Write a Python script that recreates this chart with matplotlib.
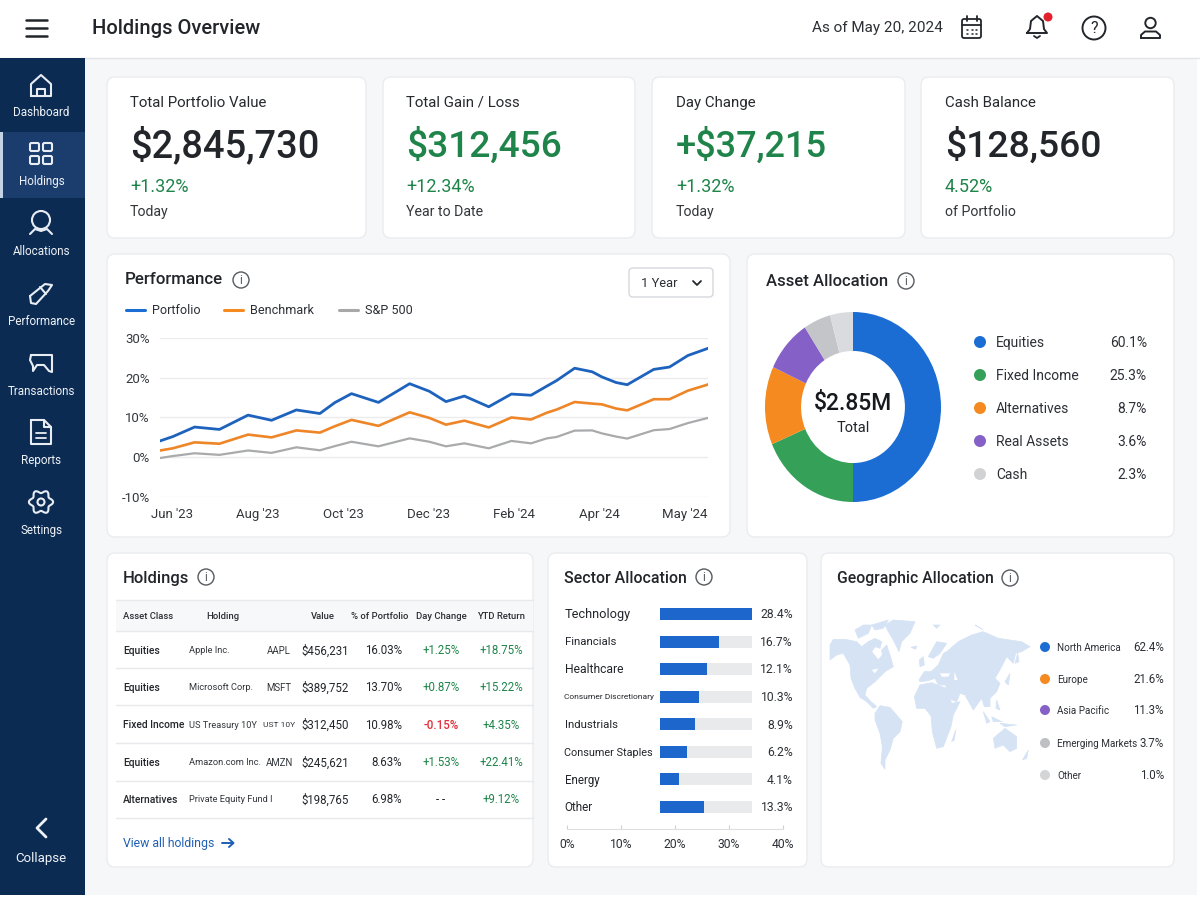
#!/usr/bin/env python3

import numpy as np
import matplotlib
matplotlib.use("Agg")
import matplotlib.pyplot as plt
from matplotlib.patches import FancyBboxPatch, Circle, Rectangle, Polygon

plt.rcParams["font.family"] = ["Roboto", "DejaVu Sans"]

INK = "#22262b"
GREEN = "#1e8449"
RED = "#e0303c"
NAVY = "#0c2b52"
BLUE = "#1b6dd3"
ORANGE = "#f58a20"
PURPLE = "#8560c6"

# performance chart
perf_months = [-0.28, 0.02, 0.53, 1.11, 1.78, 2.33, 2.91, 3.46, 3.81, 4.2, 4.83, 5.56, 6.02, 6.41, 6.84,
               7.41, 7.94, 8.4, 8.77, 9.0, 9.42, 9.83, 10.06, 10.39, 10.65, 11.27, 11.64, 12.07, 12.54]
portfolio = [4.1, 5.2, 7.6, 7.0, 10.6, 9.3, 11.9, 11.0, 13.75, 16.0, 13.8, 18.5, 16.6, 14.0, 15.4,
             12.7, 15.9, 15.6, 17.9, 19.3, 22.4, 21.5, 20.2, 18.8, 18.25, 22.1, 22.7, 25.6, 27.4]
benchmark = [1.7, 2.25, 3.75, 3.4, 5.7, 5.0, 6.75, 6.2, 7.8, 9.4, 7.9, 11.3, 9.9, 8.2, 9.2,
             7.5, 10.0, 9.5, 11.2, 12.0, 13.9, 13.5, 13.3, 12.25, 11.8, 14.6, 14.6, 16.75, 18.3]
sp500 = [-0.2, 0.3, 1.0, 0.6, 1.7, 1.1, 2.5, 1.75, 2.8, 3.9, 2.75, 4.75, 3.9, 2.75, 3.5,
         2.25, 4.1, 3.5, 4.75, 5.1, 6.7, 6.75, 6.0, 5.2, 4.7, 6.8, 7.1, 8.6, 9.9]
month_ticks = [0, 2, 4, 6, 8, 10, 12]
month_labels = ["Jun '23", "Aug '23", "Oct '23", "Dec '23", "Feb '24", "Apr '24", "May '24"]
pct_ticks = [-10, 0, 10, 20, 30]

# asset allocation: labels show one thing, the ring was drawn with other shares
asset_names = ["Equities", "Fixed Income", "Alternatives", "Real Assets", "Cash"]
asset_pct = ["60.1%", "25.3%", "8.7%", "3.6%", "2.3%"]
ring_shares = [50.0, 18.6, 13.3, 8.9, 5.0, 4.2]
ring_colors = [BLUE, "#34a058", ORANGE, PURPLE, "#c3c5c9", "#d9dbde"]
asset_dots = [BLUE, "#34a058", ORANGE, PURPLE, "#d0d2d4"]

# sector bars, fill is the part of the grey track as drawn
sectors = ["Technology", "Financials", "Healthcare", "Consumer Discretionary", "Industrials",
           "Consumer Staples", "Energy", "Other"]
sector_sizes = [9.2, 8.2, 8.7, 6.05, 8.2, 7.8, 8.3, 8.5]
sector_pct = ["28.4%", "16.7%", "12.1%", "10.3%", "8.9%", "6.2%", "4.1%", "13.3%"]
sector_fill = [1.0, 0.645, 0.51, 0.42, 0.38, 0.29, 0.21, 0.48]
sector_axis_ticks = [0, 10, 20, 30, 40]

# geographic legend
geo_names = ["North America", "Europe", "Asia Pacific", "Emerging Markets", "Other"]
geo_pct = ["62.4%", "21.6%", "11.3%", "3.7%", "1.0%"]
geo_dots = [BLUE, ORANGE, PURPLE, "#bdbfc2", "#d4d5d7"]

# holdings table
hold_class = ["Equities", "Equities", "Fixed Income", "Equities", "Alternatives"]
hold_name = ["Apple Inc.", "Microsoft Corp.", "US Treasury 10Y", "Amazon.com Inc.", "Private Equity Fund I"]
hold_ticker = ["AAPL", "MSFT", "UST 10Y", "AMZN", ""]
ticker_sizes = [6.9, 6.9, 6.1, 6.9, 6.9]
hold_value = ["$456,231", "$389,752", "$312,450", "$245,621", "$198,765"]
hold_share = ["16.03%", "13.70%", "10.98%", "8.63%", "6.98%"]
hold_day = ["+1.25%", "+0.87%", "-0.15%", "+1.53%", "- -"]
hold_ytd = ["+18.75%", "+15.22%", "+4.35%", "+22.41%", "+9.12%"]

# kpi cards
kpi_titles = ["Total Portfolio Value", "Total Gain / Loss", "Day Change", "Cash Balance"]
kpi_values = ["$2,845,730", "$312,456", "+$37,215", "$128,560"]
kpi_sizes = [27.4, 26.7, 26.0, 26.8]
kpi_deltas = ["+1.32%", "+12.34%", "+1.32%", "4.52%"]
kpi_notes = ["Today", "Year to Date", "Today", "of Portfolio"]
kpi_colors = [INK, GREEN, GREEN, INK]
kpi_boxes = [(107, 366), (383, 635), (652, 905), (921, 1174)]
kpi_text_x = [130, 406, 676, 945]

nav_items = ["Dashboard", "Holdings", "Allocations", "Performance", "Transactions", "Reports", "Settings"]
nav_icon_y = [86, 154, 223, 293, 363, 432, 502]
nav_text_y = [112, 181, 251, 321, 391, 460, 530]

# world map outlines, in pixels of the map zoom
world_land = [
    [(15, 105), (25, 88), (60, 88), (95, 95), (110, 110), (130, 95), (150, 85), (170, 95), (165, 115), (150, 110),
     (140, 125), (160, 150), (172, 135), (170, 120), (185, 105), (195, 135), (205, 170), (180, 185), (165, 200),
     (150, 215), (125, 235), (120, 255), (135, 272), (155, 290), (145, 295), (125, 275), (105, 262), (90, 235),
     (78, 205), (75, 165), (55, 130), (35, 135), (15, 150)],
    [(90, 60), (115, 45), (140, 45), (130, 70), (100, 85)],
    [(140, 45), (190, 30), (175, 55), (150, 60)],
    [(180, 45), (205, 30), (270, 35), (255, 70), (230, 95), (222, 125), (205, 90), (190, 65)],
    [(258, 112), (275, 108), (272, 118)],
    [(150, 310), (165, 287), (195, 292), (232, 335), (225, 365), (205, 385), (195, 420), (180, 450), (180, 478),
     (168, 460), (172, 410), (165, 370), (150, 330)],
    [(268, 260), (285, 225), (320, 218), (345, 228), (365, 235), (380, 280), (405, 275), (385, 315), (378, 350),
     (355, 410), (335, 415), (322, 365), (318, 318), (300, 295), (275, 295)],
    [(282, 210), (298, 185), (318, 185), (340, 165), (355, 130), (365, 125), (400, 95), (440, 75), (475, 65),
     (520, 85), (590, 95), (615, 110), (590, 125), (572, 130), (565, 160), (545, 140), (530, 170), (510, 205),
     (525, 220), (515, 245), (495, 265), (495, 290), (478, 290), (470, 265), (445, 300), (420, 255), (405, 250),
     (395, 275), (370, 265), (362, 225), (340, 225), (330, 205), (310, 212), (285, 215)],
    [(310, 140), (335, 95), (365, 100), (345, 130), (325, 145)],
    [(283, 150), (295, 140), (298, 165), (285, 170)],
    [(540, 215), (555, 190), (550, 225)],
    [(570, 160), (578, 130), (582, 155)],
    [(380, 395), (392, 360), (388, 390)],
    [(475, 305), (495, 335), (485, 340)],
    [(500, 320), (530, 335), (505, 335)],
    [(525, 340), (575, 345), (540, 350)],
    [(515, 270), (525, 300), (513, 295)],
    [(505, 385), (540, 355), (575, 380), (575, 415), (555, 425), (535, 405), (510, 415)],
    [(592, 450), (610, 420), (605, 445)],
    [(450, 45), (472, 58), (462, 52)],
    [(325, 45), (345, 45), (335, 55)],
]
world_water = [
    [(345, 190), (375, 190), (370, 200), (350, 200)],
    [(388, 185), (398, 210), (388, 210)],
    [(140, 180), (160, 175), (150, 190)],
]

fig = plt.figure(figsize=(12, 9), dpi=100, facecolor="white")
bg = fig.add_axes([0, 0, 1, 1], zorder=0)
bg.set_xlim(0, 1200)
bg.set_ylim(900, 0)
bg.axis("off")


def txt(x, y, s, size=10, color=INK, ha="left", weight="normal"):
    bg.text(x, y + 1.2, s, fontsize=size, color=color, ha=ha, va="center", fontweight=weight, zorder=6)


def card(x0, y0, x1, y1):
    bg.add_patch(FancyBboxPatch((x0, y0), x1 - x0, y1 - y0, boxstyle="round,pad=0,rounding_size=8",
                                fc="white", ec="#eaecef", lw=1, zorder=2))


def stroke(xs, ys, color, lw=1.5):
    bg.plot(xs, ys, color=color, lw=lw, solid_capstyle="round", solid_joinstyle="round", zorder=5)


def info(x, y):
    bg.add_patch(Circle((x, y), 8, fc="none", ec="#555a60", lw=1, zorder=5))
    txt(x, y - 1, "i", 8.5, "#555a60", "center")


def sub_axes(x0, y0, x1, y1, **kw):
    ax = fig.add_axes([x0 / 1200, 1 - y1 / 900, (x1 - x0) / 1200, (y1 - y0) / 900], zorder=3, **kw)
    ax.patch.set_alpha(0)
    return ax


def nav_icon(i, cx, cy):
    c = "#e8edf4"
    if i == 0:
        stroke([cx - 10, cx - 10, cx, cx + 10, cx + 10, cx - 10], [cy + 10, cy - 2, cy - 11, cy - 2, cy + 10, cy + 10], c)
        stroke([cx - 4, cx - 4, cx + 4, cx + 4], [cy + 10, cy + 3, cy + 3, cy + 10], c)
    elif i == 1:
        for dx in (-11, 2):
            for dy in (-11, 2):
                bg.add_patch(FancyBboxPatch((cx + dx, cy + dy), 9, 8, boxstyle="round,pad=0,rounding_size=1.5",
                                            fc="none", ec=c, lw=1.5, zorder=5))
    elif i == 2:
        bg.add_patch(Circle((cx, cy - 3), 9, fc="none", ec=c, lw=1.5, zorder=5))
        stroke([cx - 11, cx - 6, cx, cx + 6, cx + 11], [cy + 11, cy + 6, cy + 8, cy + 6, cy + 11], c)
    elif i == 3:
        stroke([cx - 11, cx + 4, cx + 11, cx + 7, cx - 5, cx - 10, cx - 11], [cy + 3, cy - 9, cy - 8, cy - 2, cy + 11, cy + 10, cy + 3], c)
        stroke([cx - 1, cx + 5], [cy - 6, cy + 1], c)
    elif i == 4:
        stroke([cx - 10, cx + 11, cx + 11, cx + 8, cx + 3, cx - 4, cx - 8, cx - 8, cx - 11, cx - 10],
               [cy - 8, cy - 8, cy + 9, cy + 8, cy + 2, cy + 2, cy + 8, cy + 3, cy - 3, cy - 8], c)
    elif i == 5:
        stroke([cx - 10, cx + 3, cx + 10, cx + 10, cx - 10, cx - 10], [cy - 12, cy - 12, cy - 5, cy + 12, cy + 12, cy - 12], c)
        stroke([cx + 3, cx + 3, cx + 10], [cy - 12, cy - 5, cy - 5], c)
        stroke([cx - 5, cx + 5], [cy + 1, cy + 1], c, 1.3)
        stroke([cx - 5, cx + 5], [cy + 6, cy + 6], c, 1.3)
    else:
        t = np.linspace(0, 2 * np.pi, 97)
        r = 10.5 + 1.6 * np.cos(6 * t)
        stroke(cx + r * np.cos(t), cy + r * np.sin(t), c)
        bg.add_patch(Circle((cx, cy), 3.5, fc="none", ec=c, lw=1.5, zorder=5))


# page chrome
bg.add_patch(Rectangle((0, 0), 1197, 895, fc="#f6f7f9", ec="none", zorder=1))
bg.add_patch(Rectangle((0, 0), 1200, 58, fc="white", ec="none", zorder=1))
bg.plot([0, 1200], [58, 58], color="#e2e4e8", lw=1, zorder=1)
bg.add_patch(Rectangle((0, 58), 85, 837, fc=NAVY, ec="none", zorder=1))
bg.add_patch(Rectangle((0, 132), 85, 66, fc="#1b3d6d", ec="none", zorder=1))
bg.add_patch(Rectangle((0, 132), 2.5, 66, fc="#c4d2e6", ec="none", zorder=1))

# header
for y in (20, 28, 36):
    stroke([26, 47], [y, y], "#22262b", 1.8)
txt(92, 27, "Holdings Overview", 14.5, INK, weight="medium")
txt(812, 27, "As of May 20, 2024", 11, "#2c3036")
bg.add_patch(FancyBboxPatch((962, 19), 19, 19, boxstyle="round,pad=0,rounding_size=2", fc="none", ec=INK, lw=1.3, zorder=5))
stroke([962, 981], [25, 25], INK, 1.3)
stroke([966.5, 966.5], [16, 21], INK, 1.3)
stroke([976.5, 976.5], [16, 21], INK, 1.3)
for px in (967, 971.5, 976):
    stroke([px, px + 1], [30, 30], INK, 1.1)
    stroke([px, px + 1], [34, 34], INK, 1.1)
stroke([1027, 1030, 1031, 1037, 1043, 1044, 1047, 1027], [33, 29, 21, 16, 21, 29, 33, 33], INK, 1.4)
stroke([1034, 1037, 1040], [36, 38, 36], INK, 1.3)
bg.add_patch(Circle((1048, 17), 4.5, fc="#e3202e", ec="none", zorder=6))
bg.add_patch(Circle((1094, 28), 11.5, fc="none", ec=INK, lw=1.4, zorder=5))
txt(1094, 27, "?", 11.5, INK, "center")
bg.add_patch(Circle((1150.5, 23), 5.2, fc="none", ec=INK, lw=1.4, zorder=5))
stroke([1141, 1141, 1145, 1156, 1160, 1160, 1141], [38, 35, 31.5, 31.5, 35, 38, 38], INK, 1.4)

# side nav
for i, name in enumerate(nav_items):
    nav_icon(i, 41, nav_icon_y[i])
    txt(41.5, nav_text_y[i] - 0.5, name, 8.4, "#eef2f7", "center")
stroke([46, 37, 46], [819, 828, 837], "#eef2f7", 2)
txt(41, 857.5, "Collapse", 9.5, "#eef2f7", "center")

# kpi row
for i, (x0, x1) in enumerate(kpi_boxes):
    card(x0, 77, x1, 238)
    tx = kpi_text_x[i]
    txt(tx, 101.5, kpi_titles[i], 10.8, "#26292e")
    txt(tx, 145, kpi_values[i], kpi_sizes[i], kpi_colors[i], weight="medium")
    txt(tx, 186, kpi_deltas[i], 13, GREEN)
    txt(tx, 210.5, kpi_notes[i], 10.2, "#33373c")

# lower cards
card(107, 254, 730, 537)
card(747, 254, 1174, 537)
card(107, 553, 533, 867)
card(548, 553, 807, 867)
card(821, 553, 1174, 867)

# performance
txt(125, 278.5, "Performance", 12.2, INK, weight="medium")
info(241, 280)
bg.add_patch(FancyBboxPatch((629, 268), 84, 29, boxstyle="round,pad=0,rounding_size=4", fc="white", ec="#d5d8dc", lw=1, zorder=5))
txt(641, 282, "1 Year", 9.3, "#2c3036")
stroke([693, 697, 701], [281, 285, 281], INK, 1.3)
for (lx, tx, c, name) in [(126, 152, BLUE, "Portfolio"), (224, 250, ORANGE, "Benchmark"), (339, 365, "#a8a8a8", "S&P 500")]:
    stroke([lx, lx + 19], [310, 310], c, 2.2)
    txt(tx, 309.5, name, 9.1, "#2c3036")

ax = sub_axes(160, 338, 708, 497)
ax.plot(perf_months, sp500, color="#a9aaac", lw=1.6, solid_joinstyle="round")
ax.plot(perf_months, benchmark, color="#ee8527", lw=1.9, solid_joinstyle="round")
ax.plot(perf_months, portfolio, color="#1d62bd", lw=2.0, solid_joinstyle="round")
ax.set_xlim(perf_months[0], perf_months[-1])
ax.set_ylim(-10, 30)
ax.set_yticks(pct_ticks)
ax.set_yticklabels([f"{v}%" for v in pct_ticks], fontsize=9.5, color="#33373c")
ax.set_xticks(month_ticks)
ax.set_xticklabels(month_labels, fontsize=9.5, color="#33373c")
ax.tick_params(length=0, axis="y", pad=7.5)
ax.tick_params(length=0, axis="x", pad=8)
ax.grid(axis="y", color="#ececee", lw=1)
ax.set_axisbelow(True)
for s in ax.spines.values():
    s.set_visible(False)

# asset allocation
txt(766, 280, "Asset Allocation", 12, INK, weight="medium")
info(906, 281)
ax = sub_axes(765, 312, 941, 502)
ax.pie(ring_shares, colors=ring_colors, startangle=90, counterclock=False, radius=1.0,
       wedgeprops=dict(width=0.41, linewidth=0))
ax.set_aspect("auto")
ax.set_xlim(-1, 1)
ax.set_ylim(-1, 1)
txt(853, 402.5, "$2.85M", 16.5, "#16191d", "center", "medium")
txt(853, 427, "Total", 10.5, INK, "center")
for i, name in enumerate(asset_names):
    y = 342 + 33 * i
    bg.add_patch(Circle((980, y), 6, fc=asset_dots[i], ec="none", zorder=5))
    txt(996, y - 0.5, name, 10, "#2c3036")
    txt(1147, y - 0.5, asset_pct[i], 10, "#2c3036", "right")

# holdings table
txt(123, 577, "Holdings", 12, INK, weight="medium")
info(206, 577)
bg.add_patch(Rectangle((116, 600), 417, 31, fc="#f7f8f9", ec="none", zorder=3))
for y in (600, 631, 668, 705, 743, 781, 818):
    bg.plot([116, 533], [y, y], color="#e8e9ec", lw=1, zorder=4)
for x, s, ha in [(123, "Asset Class", "left"), (223, "Holding", "center"), (323, "Value", "center"),
                 (380, "% of Portfolio", "center"), (441, "Day Change", "center"), (501, "YTD Return", "center")]:
    txt(x, 615, s, 6.8, "#2c3036", ha, "medium")
row_ys = [650, 687, 724.5, 762, 799]
for i, y in enumerate(row_ys):
    txt(123, y - 0.5, hold_class[i], 7.4, INK, weight="medium")
    txt(189, y - 0.5, hold_name[i], 6.7, "#33373c")
    txt(279, y - 0.5, hold_ticker[i], ticker_sizes[i], "#33373c", "center")
    txt(349, y - 0.5, hold_value[i], 8.3, INK, "right")
    txt(402, y - 0.5, hold_share[i], 8.3, INK, "right")
    day_col = RED if hold_day[i].startswith("-0") else (INK if hold_day[i] == "- -" else GREEN)
    txt(441, y - 0.5, hold_day[i], 8.3, day_col, "center", "medium" if day_col == RED else "normal")
    txt(501, y - 0.5, hold_ytd[i], 8.3, GREEN, "center")
txt(123, 842.5, "View all holdings", 8.8, "#1f5fb4")
stroke([222, 233], [843, 843], "#1f5fb4", 1.4)
stroke([229, 233.5, 229], [839, 843, 847], "#1f5fb4", 1.4)

# sector allocation
txt(564, 577, "Sector Allocation", 11.4, INK, weight="medium")
info(704, 577)
row_pos = np.arange(len(sectors))
ax = sub_axes(660, 600.5, 752, 820.5)
ax.barh(row_pos, [1.0] * len(sectors), height=0.44, color="#e9eaec")
ax.barh(row_pos, sector_fill, height=0.44, color="#1c66cc")
ax.set_xlim(0, 1)
ax.set_ylim(len(sectors) - 0.5, -0.5)
ax.axis("off")
for i, name in enumerate(sectors):
    y = 614 + 27.6 * i
    txt(564.5, y - 0.5, name, sector_sizes[i], "#22262b")
    txt(793, y - 0.5, sector_pct[i], 8.7, "#2c3036", "right")
ax = sub_axes(567, 822, 783, 829)
ax.set_xlim(0, 40)
ax.set_xticks(sector_axis_ticks)
ax.set_xticklabels([f"{v}%" for v in sector_axis_ticks], fontsize=8.7, color="#2c3036")
ax.set_yticks([])
ax.tick_params(axis="x", direction="in", length=3, color="#cfd1d4", pad=6.5)
for k, s in ax.spines.items():
    s.set_visible(k == "bottom")
ax.spines["bottom"].set_color("#dcdee1")

# geographic allocation
txt(837, 577.5, "Geographic Allocation", 11.3, INK, weight="medium")
info(1010, 578)
for shape in world_land:
    pts = [(825 + a / 3, 610 + b / 3) for a, b in shape]
    bg.add_patch(Polygon(pts, closed=True, fc="#d5e3f5", ec="#d5e3f5", lw=0.5, joinstyle="round", zorder=4))
for shape in world_water:
    pts = [(825 + a / 3, 610 + b / 3) for a, b in shape]
    bg.add_patch(Polygon(pts, closed=True, fc="white", ec="none", zorder=4))
for i, name in enumerate(geo_names):
    y = [647, 679, 710, 743, 775][i]
    bg.add_patch(Circle((1045, y), 5, fc=geo_dots[i], ec="none", zorder=5))
    txt(1057, y - 0.5, name, 7.1, "#2c3036")
    txt(1164, y - 0.5, geo_pct[i], 8.3, "#2c3036", "right")

plt.savefig("out.png", dpi=100, facecolor="white")
plt.close()
